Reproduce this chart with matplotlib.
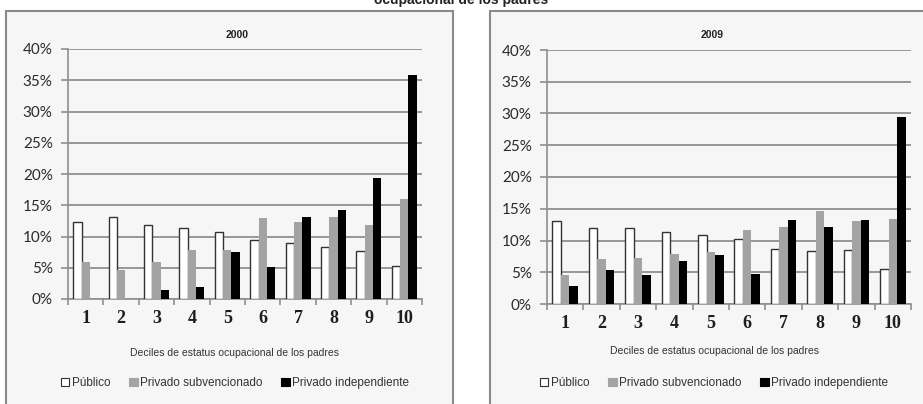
import matplotlib
matplotlib.use("Agg")
import matplotlib.pyplot as plt
from matplotlib.patches import Rectangle, Patch
import numpy as np

deciles = ["1", "2", "3", "4", "5", "6", "7", "8", "9", "10"]
series_names = ["Público", "Privado subvencionado", "Privado independiente"]

publico_2000 = [12.3, 13.1, 11.8, 11.3, 10.7, 9.5, 9.0, 8.3, 7.7, 5.3]
subv_2000 = [6.0, 4.6, 6.0, 7.9, 7.8, 12.9, 12.3, 13.1, 11.8, 16.0]
indep_2000 = [0.0, 0.0, 1.4, 1.9, 7.6, 5.2, 13.2, 14.3, 19.4, 35.8]

publico_2009 = [13.1, 11.9, 11.9, 11.4, 10.9, 10.3, 8.7, 8.4, 8.5, 5.5]
subv_2009 = [4.5, 7.1, 7.3, 7.9, 8.2, 11.6, 12.1, 14.7, 13.0, 13.4]
indep_2009 = [2.8, 5.4, 4.5, 6.7, 7.7, 4.8, 13.3, 12.1, 13.2, 29.4]

yticks = [0, 5, 10, 15, 20, 25, 30, 35, 40]
ytick_labels = ["0%", "5%", "10%", "15%", "20%", "25%", "30%", "35%", "40%"]
xlabel_text = "Deciles de estatus ocupacional de los padres"
top_text = "ocupacional de los padres"

W, H = 923, 404
fig = plt.figure(figsize=(W / 100, H / 100), dpi=100)
fig.patch.set_facecolor("white")

def fx(px):
    return px / W

def fy(py):
    return 1 - py / H

# panel boxes
for (x0, x1) in [(6, 453), (490, 930)]:
    fig.patches.append(Rectangle((fx(x0), fy(420)), fx(x1) - fx(x0), fy(11) - fy(420),
                                 transform=fig.transFigure, facecolor="#f6f6f6",
                                 edgecolor="#8a8a8a", linewidth=1.5, zorder=-5))

fig.text(fx(461), fy(4), top_text, ha="center", va="baseline", fontsize=10,
         fontweight="bold", family="Liberation Sans", color="#222222")

colors = ["white", "#a3a3a3", "black"]
edges = ["#333333", "#a3a3a3", "black"]

def draw_panel(ax_rect, title, data, title_x, legend_x, xlabel_y, legend_y):
    ax = fig.add_axes(ax_rect)
    ax.set_facecolor("none")
    ax.set_zorder(2)
    x = np.arange(1, len(deciles) + 1)
    w = 0.235
    for i, (vals, c, e) in enumerate(zip(data, colors, edges)):
        ax.bar(x + (i - 1) * w, vals, width=w, color=c, edgecolor=e,
               linewidth=1.0 if i == 0 else 0, zorder=3)
    ax.set_xlim(0.5, 10.5)
    ax.set_ylim(0, 40)
    ax.set_yticks(yticks)
    ax.set_yticklabels(ytick_labels, family="Lato", fontsize=11, color="#2a2a2a")
    ax.yaxis.grid(True, color="#8f8f8f", linewidth=1.3, zorder=0)
    ax.set_axisbelow(True)
    ax.set_xticks(x)
    ax.set_xticklabels(deciles, family="Liberation Serif", fontsize=13, fontweight="bold",
                       color="#1e1e1e")
    ax.set_xticks(np.arange(0.5, 11, 1), minor=True)
    ax.tick_params(axis="x", which="major", length=0, pad=8)
    ax.tick_params(axis="x", which="minor", length=4, color="#8f8f8f", width=1.2)
    ax.tick_params(axis="y", length=5, color="#8f8f8f", width=1.2, pad=6)
    for s in ["top", "right"]:
        ax.spines[s].set_visible(False)
    for s in ["left", "bottom"]:
        ax.spines[s].set_color("#8f8f8f")
        ax.spines[s].set_linewidth(1.2)
    fig.text(fx(title_x), fy(35), title, ha="center", va="center", fontsize=7.5,
             fontweight="bold", family="Liberation Sans", color="#222222")
    fig.text(fx(legend_x), fy(xlabel_y), xlabel_text, ha="center", va="center",
             fontsize=7.5, family="Liberation Sans", color="#333333")
    handles = [Patch(facecolor=c, edgecolor=("#333333" if i == 0 else c), linewidth=0.8)
               for i, c in enumerate(colors)]
    fig.legend(handles, series_names, loc="center", bbox_to_anchor=(fx(legend_x), fy(legend_y)),
               ncol=3, frameon=False, handlelength=0.7, handleheight=0.7, handletextpad=0.2,
               columnspacing=1.6, prop={"family": "Liberation Sans", "size": 8.5},
               labelcolor="#333333")
    return ax

draw_panel([fx(68), fy(299), fx(422) - fx(68), fy(49) - fy(299)], "2000",
           [publico_2000, subv_2000, indep_2000], 237, 235, 353, 383)
draw_panel([fx(547), fy(304), fx(911) - fx(547), fy(50) - fy(304)], "2009",
           [publico_2009, subv_2009, indep_2009], 712, 714, 351, 383)

fig.savefig("out.png", dpi=100, facecolor=fig.get_facecolor())
